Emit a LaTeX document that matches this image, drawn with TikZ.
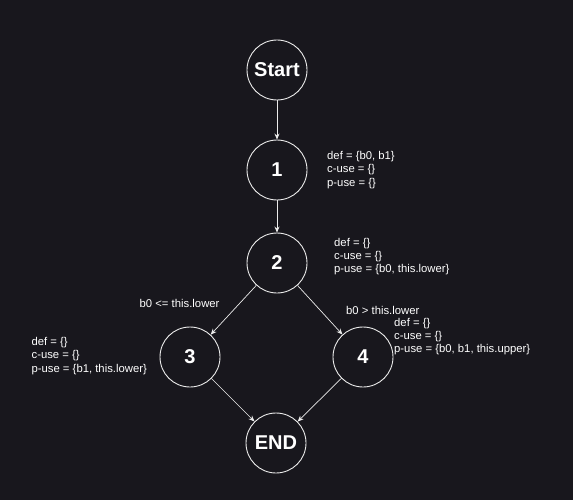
\documentclass[tikz,border=0pt]{standalone}
\usepackage{fontspec}
\setmainfont{Liberation Sans}
\usetikzlibrary{arrows.meta}
\definecolor{bg}{RGB}{24,23,29}
\definecolor{fg}{RGB}{235,235,235}
\tikzset{
  state/.style={circle, draw=fg, line width=0.9pt, minimum size=60pt, inner sep=0pt, text=white, font=\fontsize{20}{24}\selectfont\bfseries},
  note/.style={anchor=west, align=left, text=white, inner sep=0pt, font=\fontsize{11.3}{13.3}\selectfont},
  edge/.style={draw=fg, line width=0.7pt, -{Stealth[length=6pt,width=5pt]}}
}
\begin{document}
\begin{tikzpicture}[x=1pt,y=-1pt]
\fill[bg] (0,0) rectangle (573,500);
\useasboundingbox (0,0) rectangle (573,500);
\node[state] (s) at (277,70) {Start};
\node[state] (n1) at (277,170) {1};
\node[state] (n2) at (277,263) {2};
\node[state] (n3) at (190,357) {3};
\node[state] (n4) at (363,357) {4};
\node[state] (e) at (276,443) {END};
\draw[edge] (s) -- (n1);
\draw[edge] (n1) -- (n2);
\draw[edge] (n2) -- (n3);
\draw[edge] (n2) -- (n4);
\draw[edge] (n3) -- (e);
\draw[edge] (n4) -- (e);
\node[note] (l1) at (327,170) {def = \{b0, b1\}\\c-use = \{\}\\p-use = \{\}};
\node[note] (l2) at (334,256.5) {def = \{\}\\c-use = \{\}\\p-use = \{b0, this.lower\}};
\node[note] (c3) at (139.5,303) {b0 <= this.lower};
\node[note] (c4) at (346,310) {b0 > this.lower};
\node[note] (l4) at (394,336.7) {def = \{\}\\c-use = \{\}\\p-use = \{b0, b1, this.upper\}};
\node[note] (l3) at (31.4,356) {def = \{\}\\c-use = \{\}\\p-use = \{b1, this.lower\}};
\end{tikzpicture}
\end{document}
